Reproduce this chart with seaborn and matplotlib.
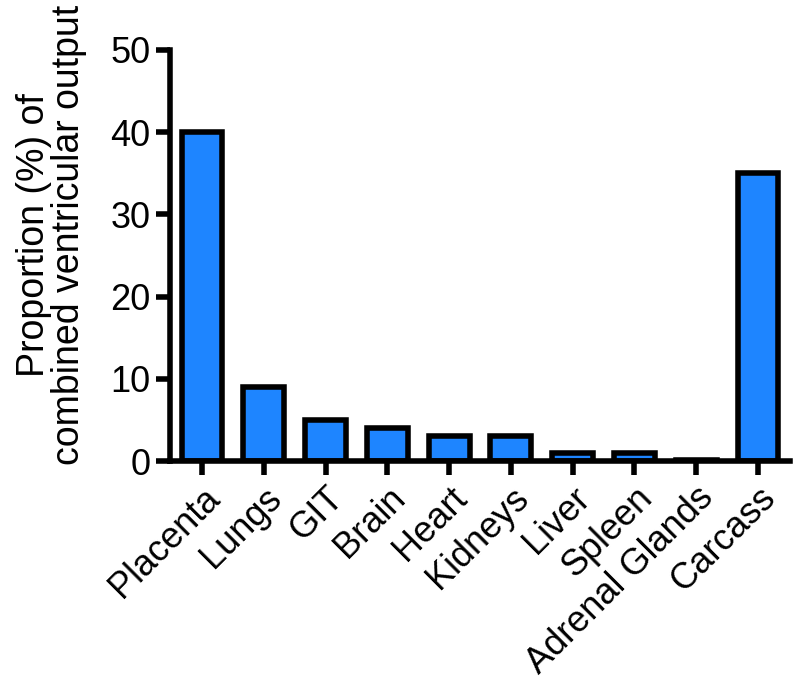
import matplotlib
matplotlib.use("Agg")
import matplotlib.pyplot as plt
import seaborn as sns

# proportion of combined ventricular output per organ (%)
organs = ["Placenta", "Lungs", "GIT", "Brain", "Heart", "Kidneys",
          "Liver", "Spleen", "Adrenal Glands", "Carcass"]
proportion = [40, 9, 5, 4, 3, 3, 1, 1, 0.1, 35]
y_ticks = [0, 10, 20, 30, 40, 50]

sns.set_style("ticks")
plt.rcParams["font.family"] = ["Liberation Sans", "DejaVu Sans"]
plt.rcParams["text.color"] = "black"
plt.rcParams["axes.labelcolor"] = "black"

fig = plt.figure(figsize=(8, 6.84), dpi=100)
ax = fig.add_axes([0.2125, 0.326, 0.775, 0.601])

sns.barplot(x=organs, y=proportion, color="#1E85FF", saturation=1,
            edgecolor="black", linewidth=4, width=0.66, ax=ax)

ax.set_xlim(-0.52, 9.52)
ax.set_ylim(0, 50)
ax.set_yticks(y_ticks)
sns.despine(ax=ax)
for side in ["left", "bottom"]:
    ax.spines[side].set_linewidth(4)
    ax.spines[side].set_color("black")
ax.tick_params(axis="both", width=4, length=10, labelsize=26, pad=4,
               colors="black")

ax.set_xticks(range(len(organs)))
ax.set_xticklabels(organs, rotation=45, ha="right", rotation_mode="anchor")
ax.set_xlabel("")
ax.set_ylabel("Proportion (%) of\ncombined ventricular output", fontsize=27,
              linespacing=0.95)
ax.yaxis.set_label_coords(-0.134, 0.55)

fig.savefig("out.png", dpi=100)
